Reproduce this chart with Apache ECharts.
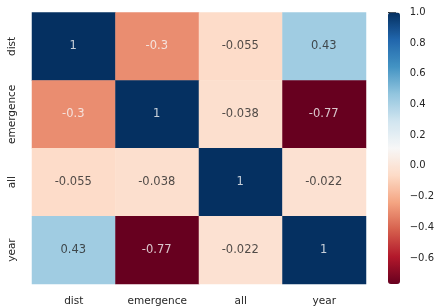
<!DOCTYPE html>
<html>
<head>
<meta charset="utf-8">
<script src="https://cdn.jsdelivr.net/npm/echarts@6/dist/echarts.min.js"></script>
<style>
html,body{margin:0;padding:0;background:#fff;}
#c{width:437px;height:307px;}
</style>
</head>
<body>
<div id="c"></div>
<script>
var categories = ['dist', 'emergence', 'all', 'year'];
var rowDist = [1, -0.3, -0.055, 0.43];
var rowEmergence = [-0.3, 1, -0.038, -0.77];
var rowAll = [-0.055, -0.038, 1, -0.022];
var rowYear = [0.43, -0.77, -0.022, 1];
var colorbarTicks = [-0.6, -0.4, -0.2, 0.0, 0.2, 0.4, 0.6, 0.8, 1.0];
var vmin = -0.77, vmax = 1;

var rows = [rowDist, rowEmergence, rowAll, rowYear];
var RdBu = ['#67001f','#b2182b','#d6604d','#f4a582','#fddbc7','#f7f7f7','#d1e5f0','#92c5de','#4393c3','#2166ac','#053061'];
var FONT = 'DejaVu Sans';
var TXT = '#262626';

var data = [];
var lightLabels = [];
var darkLabels = [];
rows.forEach(function (r, yi) {
  r.forEach(function (v, xi) {
    data.push([xi, yi, v]);
    if (v > 0.6 || v < -0.25) lightLabels.push([xi, yi, v]);
    else darkLabels.push([xi, yi, v]);
  });
});

function labelSeries(arr, color) {
  return { type: 'scatter', xAxisIndex: 0, yAxisIndex: 0, data: arr,
    symbolSize: 1, itemStyle: { color: 'rgba(0,0,0,0)' }, silent: true, z: 5,
    label: { show: true, position: [0, 0], align: 'center', verticalAlign: 'middle',
      color: color, textBorderWidth: 0,
      fontFamily: FONT, fontSize: 11.5,
      formatter: function (p) { return String(p.value[2]); } },
    emphasis: { disabled: true } };
}

var chart = echarts.init(document.getElementById('c'), null, { renderer: 'canvas' });
chart.setOption({
  backgroundColor: '#ffffff',
  animation: false,
  grid: [
    { left: 32, top: 12.5, width: 334, height: 271.5 },
    { left: 388, top: 12.5, width: 12, height: 271.5 }
  ],
  xAxis: [
    { type: 'category', data: categories, gridIndex: 0, position: 'bottom',
      axisLine: { show: false }, axisTick: { show: false }, splitLine: { show: false },
      axisLabel: { interval: 0, fontFamily: FONT, fontSize: 10.5, color: TXT, margin: 12 } },
    { type: 'value', gridIndex: 1, show: false, min: 0, max: 1 }
  ],
  yAxis: [
    { type: 'category', data: categories, gridIndex: 0, inverse: true,
      axisLine: { show: false }, axisTick: { show: false }, splitLine: { show: false },
      axisLabel: { interval: 0, fontFamily: FONT, fontSize: 10.5, color: TXT, rotate: 90, margin: 14, align: 'center', verticalAlign: 'bottom' } },
    { type: 'value', gridIndex: 1, min: vmin, max: vmax, position: 'right',
      axisLine: { show: false }, splitLine: { show: false },
      axisTick: { show: true, length: 8, lineStyle: { color: '#333333', width: 1 }, customValues: colorbarTicks },
      axisLabel: { fontFamily: FONT, fontSize: 10, color: TXT, margin: 14, customValues: colorbarTicks,
        formatter: function (v) { var s = Math.abs(v).toFixed(1); return (v < -1e-9 ? '\u2212' : '') + s; } } }
  ],
  visualMap: {
    type: 'continuous', min: vmin, max: vmax, seriesIndex: 0,
    calculable: false, hoverLink: false, realtime: false,
    orient: 'vertical', left: 388, top: 12.5, padding: 0,
    itemWidth: 12, itemHeight: 271.5, text: null, showLabel: false,
    inRange: { color: RdBu }
  },
  series: [
    { type: 'heatmap', xAxisIndex: 0, yAxisIndex: 0, data: data,
      itemStyle: { borderWidth: 0 },
      label: { show: false },
      emphasis: { disabled: true } },
    labelSeries(lightLabels, '#f7f7f7'),
    labelSeries(darkLabels, TXT)
  ]
});
</script>
</body>
</html>
